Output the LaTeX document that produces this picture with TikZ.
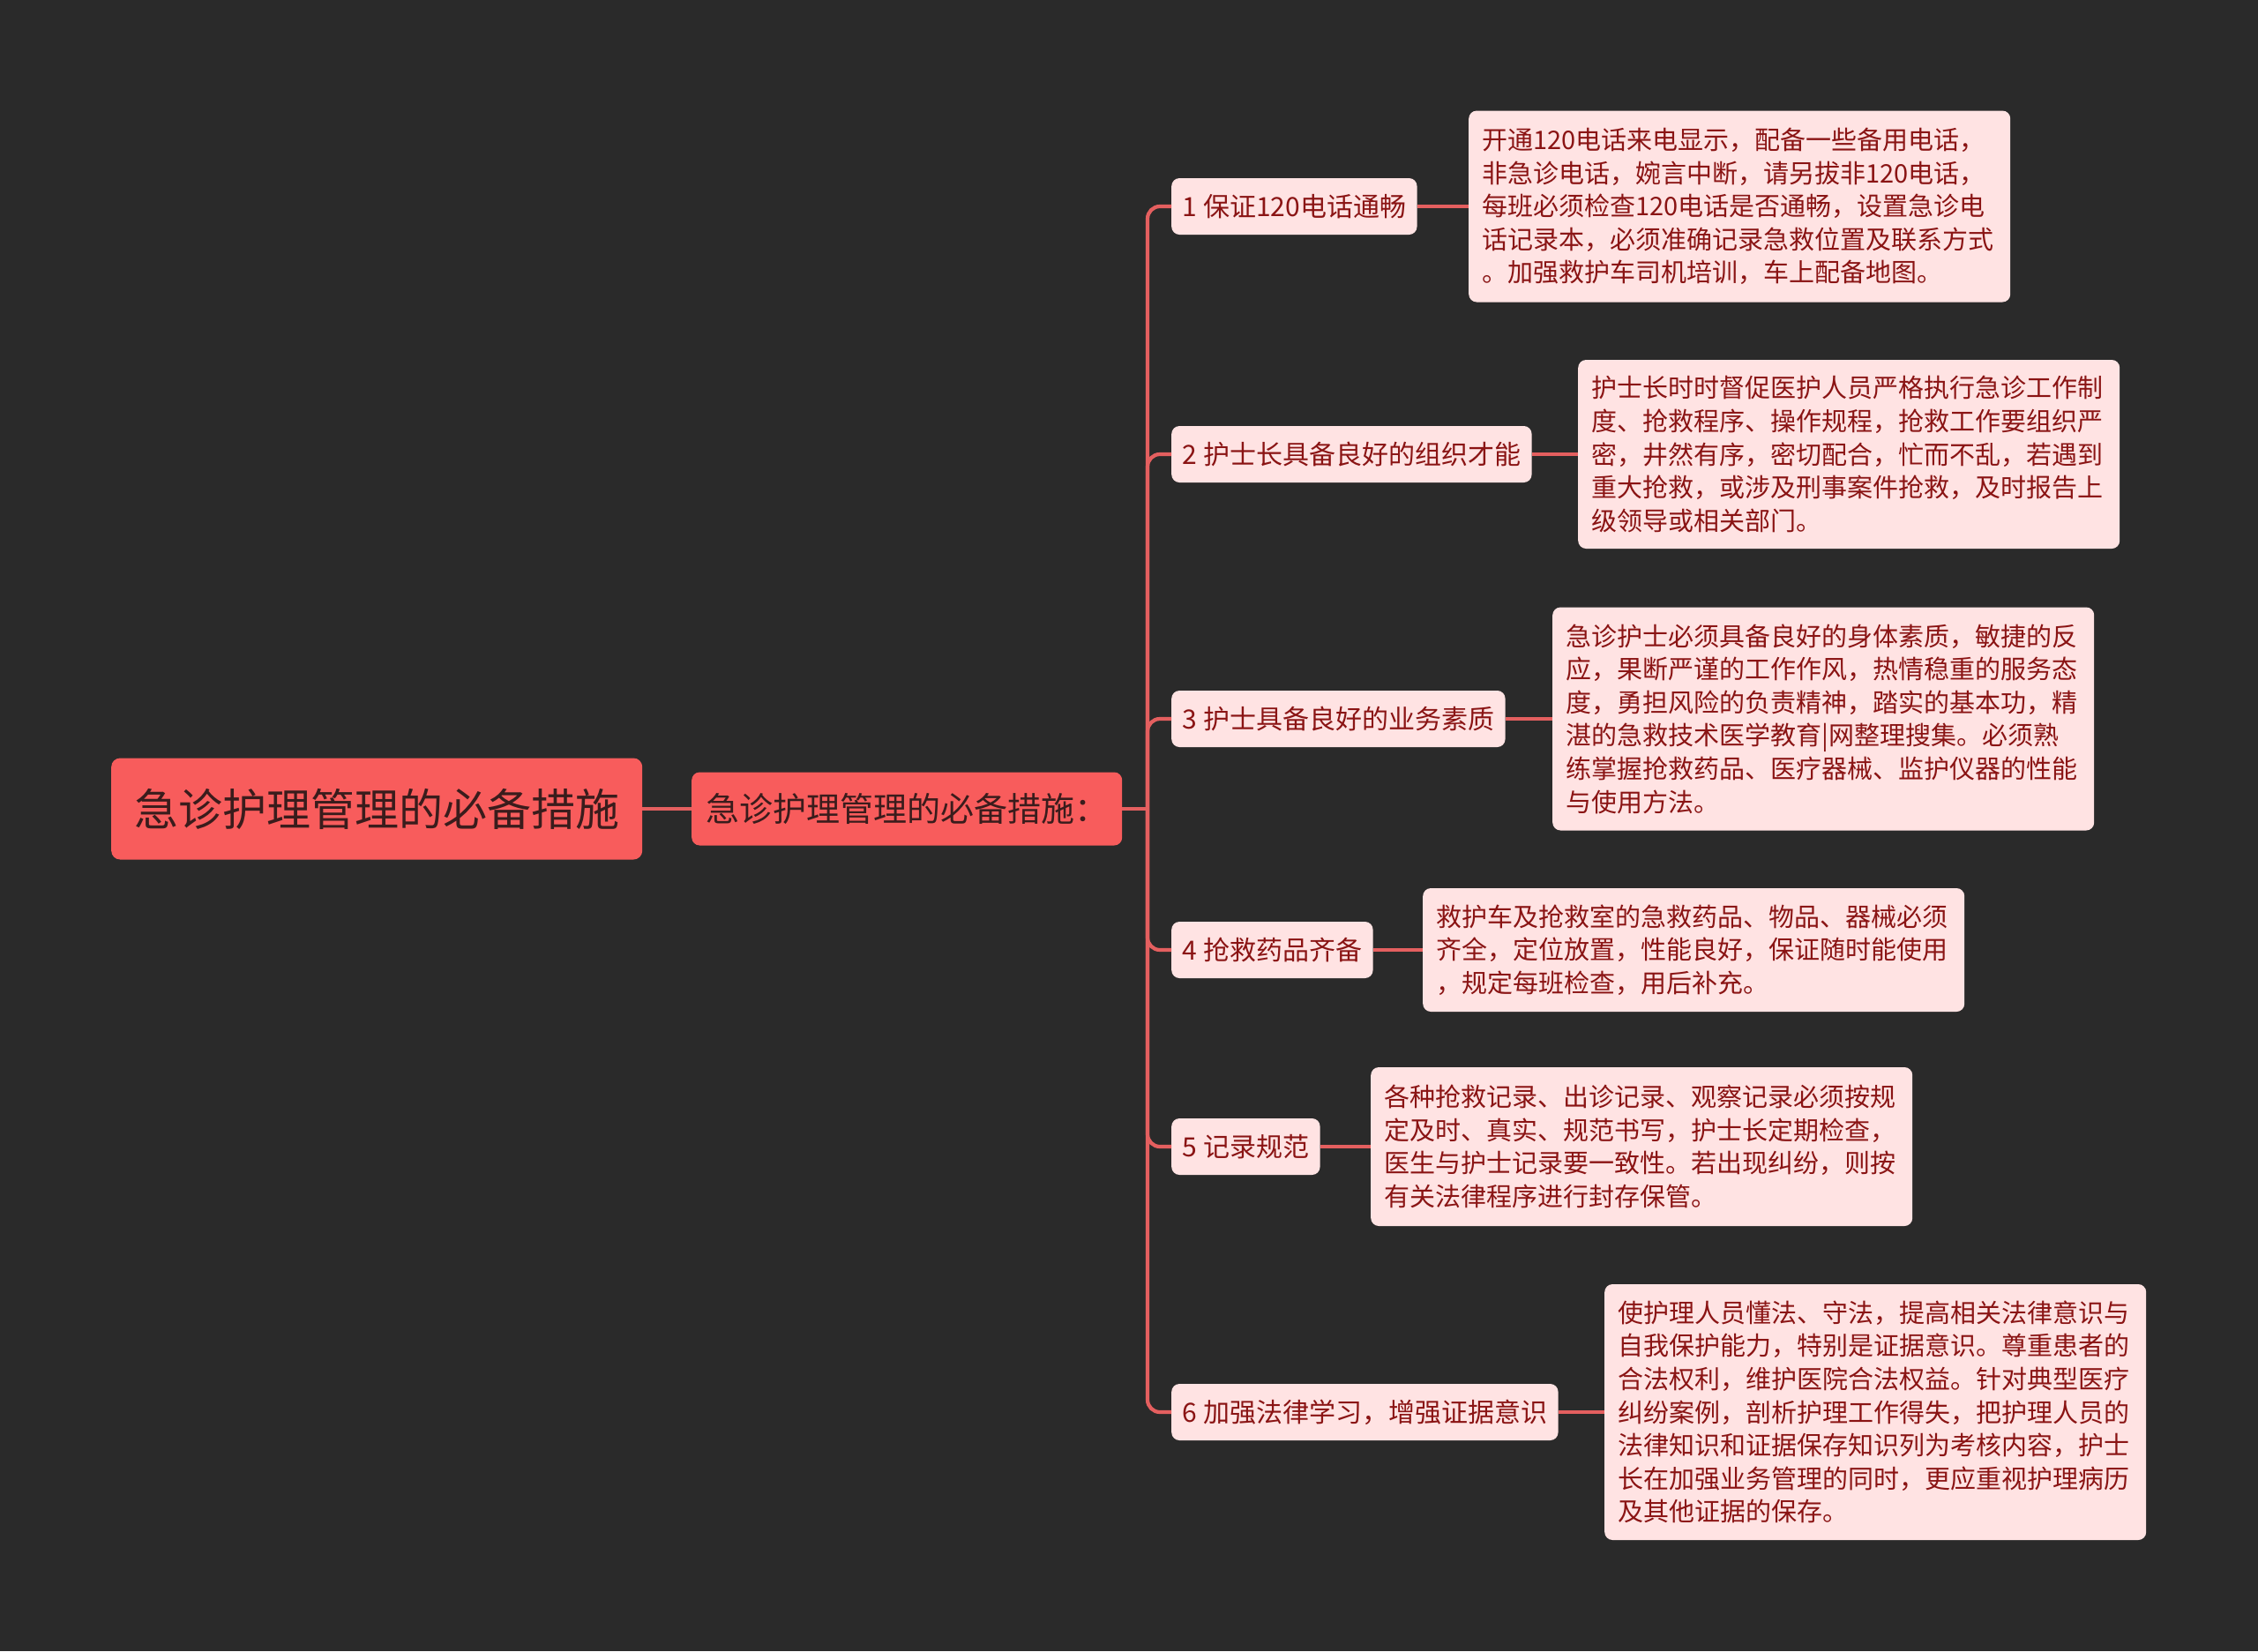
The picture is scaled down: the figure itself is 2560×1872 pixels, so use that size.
\documentclass[tikz,border=0pt]{standalone}
\usepackage{fontspec}
\setmainfont{Noto Sans CJK SC}
\definecolor{bgc}{HTML}{2A2A2A}
\definecolor{rootfill}{HTML}{F85C5C}
\definecolor{pinkfill}{HTML}{FFE3E3}
\definecolor{dred}{HTML}{8A1414}
\definecolor{darktxt}{HTML}{3A1C1C}
\definecolor{linec}{HTML}{E45F5F}
\begin{document}
\begin{tikzpicture}[x=1pt,y=-1pt,
  rootbox/.style={fill=rootfill, rounded corners=10pt, text=darktxt, font=\fontsize{50}{60}\selectfont, inner xsep=26pt, minimum height=115pt, anchor=west},
  midbox/.style={fill=rootfill, rounded corners=9pt, text=darktxt, font=\fontsize{38}{46}\selectfont, inner xsep=16pt, minimum height=83pt, anchor=west},
  branchbox/.style={fill=pinkfill, rounded corners=9pt, text=dred, font=\fontsize{30}{36}\selectfont, inner xsep=12.5pt, minimum height=64pt, anchor=west},
  leafbox/.style={fill=pinkfill, rounded corners=9pt, text=dred, font=\fontsize{29}{37.6}\selectfont, align=left, text width=584pt, inner xsep=15pt, inner ysep=8pt, anchor=west},
  conn/.style={draw=linec, line width=4.2pt}
]
\fill[bgc] (0,0) rectangle (2560,1872);
\useasboundingbox (0,0) rectangle (2560,1872);

\node[rootbox] (root) at (126,917) {急诊护理管理的必备措施};
\node[midbox] (mid) at (784,917) {急诊护理管理的必备措施：};

\node[branchbox] (b1) at (1328,234) {1 保证120电话通畅};
\node[branchbox] (b2) at (1328,515) {2 护士长具备良好的组织才能};
\node[branchbox] (b3) at (1328,815) {3 护士具备良好的业务素质};
\node[branchbox] (b4) at (1328,1077) {4 抢救药品齐备};
\node[branchbox] (b5) at (1328,1300) {5 记录规范};
\node[branchbox] (b6) at (1328,1601) {6 加强法律学习，增强证据意识};

\node[leafbox, minimum height=217pt] (l1) at (1665,234) {开通120电话来电显示，配备一些备用电话，\\非急诊电话，婉言中断，请另拔非120电话，\\每班必须检查120电话是否通畅，设置急诊电\\话记录本，必须准确记录急救位置及联系方式\\。加强救护车司机培训，车上配备地图。};
\node[leafbox, minimum height=214pt] (l2) at (1789,515) {护士长时时督促医护人员严格执行急诊工作制\\度、抢救程序、操作规程，抢救工作要组织严\\密，井然有序，密切配合，忙而不乱，若遇到\\重大抢救，或涉及刑事案件抢救，及时报告上\\级领导或相关部门。};
\node[leafbox, minimum height=253pt] (l3) at (1760,815) {急诊护士必须具备良好的身体素质，敏捷的反\\应，果断严谨的工作作风，热情稳重的服务态\\度，勇担风险的负责精神，踏实的基本功，精\\湛的急救技术医学教育|网整理搜集。必须熟\\练掌握抢救药品、医疗器械、监护仪器的性能\\与使用方法。};
\node[leafbox, minimum height=140pt] (l4) at (1613,1077) {救护车及抢救室的急救药品、物品、器械必须\\齐全，定位放置，性能良好，保证随时能使用\\，规定每班检查，用后补充。};
\node[leafbox, minimum height=180pt] (l5) at (1554,1300) {各种抢救记录、出诊记录、观察记录必须按规\\定及时、真实、规范书写，护士长定期检查，\\医生与护士记录要一致性。若出现纠纷，则按\\有关法律程序进行封存保管。};
\node[leafbox, minimum height=290pt] (l6) at (1819,1601) {使护理人员懂法、守法，提高相关法律意识与\\自我保护能力，特别是证据意识。尊重患者的\\合法权利，维护医院合法权益。针对典型医疗\\纠纷案例，剖析护理工作得失，把护理人员的\\法律知识和证据保存知识列为考核内容，护士\\长在加强业务管理的同时，更应重视护理病历\\及其他证据的保存。};

\coordinate (trunk) at (1301,917);
\draw[conn] (root.east) -- (mid.west);
\draw[conn] (mid.east) -- (trunk);
\foreach \i in {1,...,6} {
  \draw[conn, rounded corners=14pt] (trunk) |- (b\i.west);
  \draw[conn] (b\i.east) -- (l\i.west);
}
\end{tikzpicture}
\end{document}
